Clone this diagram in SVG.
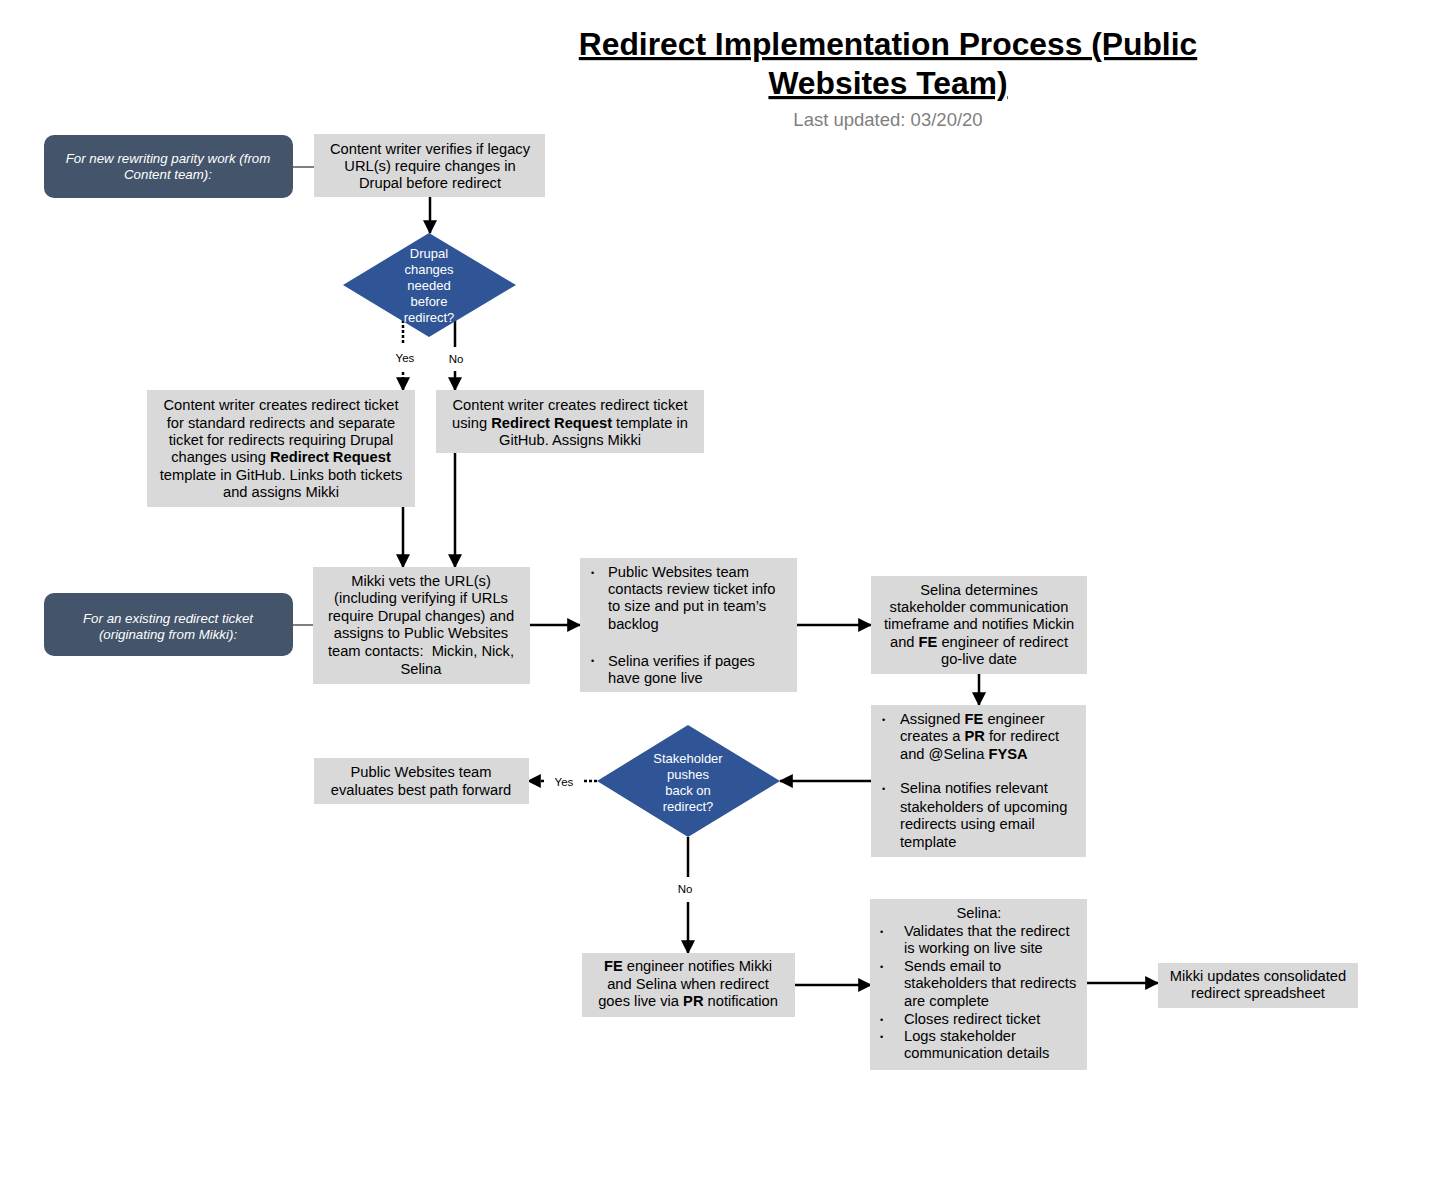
<svg xmlns="http://www.w3.org/2000/svg" width="1440" height="1200" viewBox="0 0 1440 1200">
<defs>
<marker id="ah" markerUnits="userSpaceOnUse" markerWidth="14" markerHeight="14" viewBox="0 0 12 12" refX="11" refY="6" orient="auto">
<path d="M0,0 L12,6 L0,12 Z" fill="#000"/>
</marker>
</defs>
<style>
text{font-family:"Liberation Sans",Arial,sans-serif;}
.box{fill:#D9D9D9;}
.dark{fill:#44546A;}
.dia{fill:#2F5597;}
.t{font-size:14.7px;fill:#000;}
.c{text-anchor:middle;}
.w{font-size:13px;fill:#fff;text-anchor:middle;}
.wi{font-size:13.3px;fill:#fff;text-anchor:middle;font-style:italic;}
.lbl{font-size:11.5px;fill:#000;text-anchor:middle;}
.b{font-weight:bold;}
.bul{font-size:9px;}
.ln{stroke:#000;stroke-width:2.5;fill:none;}
.thin{stroke:#000;stroke-width:1;fill:none;}
.dash{stroke:#000;stroke-width:2.5;fill:none;stroke-dasharray:3,2;}
</style>
<rect width="1440" height="1200" fill="#fff"/>

<g id="title">
<text x="888" y="55" font-weight="bold" text-anchor="middle" text-decoration="underline" style="font-size:31.8px">Redirect Implementation Process (Public</text>
<text x="888" y="94" font-weight="bold" text-anchor="middle" text-decoration="underline" style="font-size:31.8px">Websites Team)</text>
<text x="888" y="126" text-anchor="middle" fill="#7F7F7F" style="font-size:18.5px">Last updated: 03/20/20</text>
</g>

<g id="connectors">
<line class="thin" x1="293" y1="167" x2="314" y2="167"/>
<line class="thin" x1="293" y1="625" x2="313" y2="625"/>
<line class="ln" x1="430" y1="197" x2="430" y2="233" marker-end="url(#ah)"/>
<line class="dash" x1="403" y1="320" x2="403" y2="345"/>
<line class="dash" x1="403" y1="372" x2="403" y2="390" marker-end="url(#ah)"/>
<line class="ln" x1="455" y1="320" x2="455" y2="347"/>
<line class="ln" x1="455" y1="371" x2="455" y2="390" marker-end="url(#ah)"/>
<line class="ln" x1="403" y1="507" x2="403" y2="567" marker-end="url(#ah)"/>
<line class="ln" x1="455" y1="453" x2="455" y2="567" marker-end="url(#ah)"/>
<line class="ln" x1="530" y1="625" x2="580" y2="625" marker-end="url(#ah)"/>
<line class="ln" x1="797" y1="625" x2="871" y2="625" marker-end="url(#ah)"/>
<line class="ln" x1="979" y1="674" x2="979" y2="705" marker-end="url(#ah)"/>
<line class="ln" x1="871" y1="781" x2="780" y2="781" marker-end="url(#ah)"/>
<line class="dash" x1="597" y1="781" x2="584" y2="781"/>
<line class="dash" x1="544" y1="781" x2="528" y2="781" marker-end="url(#ah)"/>
<line class="ln" x1="688" y1="837" x2="688" y2="877"/>
<line class="ln" x1="688" y1="902" x2="688" y2="953" marker-end="url(#ah)"/>
<line class="ln" x1="795" y1="985" x2="871" y2="985" marker-end="url(#ah)"/>
<line class="ln" x1="1087" y1="983" x2="1158" y2="983" marker-end="url(#ah)"/>
<text class="lbl" x="405" y="362">Yes</text>
<text class="lbl" x="456" y="363">No</text>
<text class="lbl" x="564" y="786">Yes</text>
<text class="lbl" x="685" y="893">No</text>
</g>

<g id="start-new">
<rect class="dark" x="44" y="135" width="249" height="63" rx="10"/>
<text class="wi" x="168" y="163">For new rewriting parity work (from</text>
<text class="wi" x="168" y="179">Content team):</text>
</g>

<g id="verify-legacy">
<rect class="box" x="314" y="134" width="231" height="63"/>
<text class="t c" x="430" y="154">Content writer verifies if legacy</text>
<text class="t c" x="430" y="171">URL(s) require changes in</text>
<text class="t c" x="430" y="188">Drupal before redirect</text>
</g>

<g id="drupal-decision">
<polygon class="dia" points="429,233 516,285 429,337 343,285"/>
<text class="w" x="429" y="258">Drupal</text>
<text class="w" x="429" y="274">changes</text>
<text class="w" x="429" y="290">needed</text>
<text class="w" x="429" y="306">before</text>
<text class="w" x="429" y="322">redirect?</text>
</g>

<g id="ticket-yes">
<rect class="box" x="147" y="390" width="268" height="117"/>
<text class="t c" x="281" y="410">Content writer creates redirect ticket</text>
<text class="t c" x="281" y="428">for standard redirects and separate</text>
<text class="t c" x="281" y="445">ticket for redirects requiring Drupal</text>
<text class="t c" x="281" y="462">changes using <tspan class="b">Redirect Request</tspan></text>
<text class="t c" x="281" y="480">template in GitHub. Links both tickets</text>
<text class="t c" x="281" y="497">and assigns Mikki</text>
</g>

<g id="ticket-no">
<rect class="box" x="436" y="390" width="268" height="63"/>
<text class="t c" x="570" y="410">Content writer creates redirect ticket</text>
<text class="t c" x="570" y="428">using <tspan class="b">Redirect Request</tspan> template in</text>
<text class="t c" x="570" y="445">GitHub. Assigns Mikki</text>
</g>

<g id="start-existing">
<rect class="dark" x="44" y="593" width="249" height="63" rx="10"/>
<text class="wi" x="168" y="623">For an existing redirect ticket</text>
<text class="wi" x="168" y="639">(originating from Mikki):</text>
</g>

<g id="mikki-vets">
<rect class="box" x="313" y="567" width="217" height="117"/>
<text class="t c" x="421" y="586">Mikki vets the URL(s)</text>
<text class="t c" x="421" y="603">(including verifying if URLs</text>
<text class="t c" x="421" y="621">require Drupal changes) and</text>
<text class="t c" x="421" y="638">assigns to Public Websites</text>
<text class="t c" x="421" y="656">team contacts:&#160; Mickin, Nick,</text>
<text class="t c" x="421" y="674">Selina</text>
</g>

<g id="team-review">
<rect class="box" x="580" y="558" width="217" height="134"/>
<text class="t bul" x="591" y="576">•</text>
<text class="t" x="608" y="577">Public Websites team</text>
<text class="t" x="608" y="594">contacts review ticket info</text>
<text class="t" x="608" y="611">to size and put in team’s</text>
<text class="t" x="608" y="629">backlog</text>
<text class="t bul" x="591" y="664">•</text>
<text class="t" x="608" y="666">Selina verifies if pages</text>
<text class="t" x="608" y="683">have gone live</text>
</g>

<g id="selina-timeframe">
<rect class="box" x="871" y="576" width="216" height="98"/>
<text class="t c" x="979" y="595">Selina determines</text>
<text class="t c" x="979" y="612">stakeholder communication</text>
<text class="t c" x="979" y="629">timeframe and notifies Mickin</text>
<text class="t c" x="979" y="647">and <tspan class="b">FE</tspan> engineer of redirect</text>
<text class="t c" x="979" y="664">go-live date</text>
</g>

<g id="fe-pr">
<rect class="box" x="871" y="705" width="215" height="152"/>
<text class="t bul" x="882" y="723">•</text>
<text class="t" x="900" y="724">Assigned <tspan class="b">FE</tspan> engineer</text>
<text class="t" x="900" y="741">creates a <tspan class="b">PR</tspan> for redirect</text>
<text class="t" x="900" y="759">and @Selina <tspan class="b">FYSA</tspan></text>
<text class="t bul" x="882" y="792">•</text>
<text class="t" x="900" y="793">Selina notifies relevant</text>
<text class="t" x="900" y="812">stakeholders of upcoming</text>
<text class="t" x="900" y="829">redirects using email</text>
<text class="t" x="900" y="847">template</text>
</g>

<g id="stakeholder-decision">
<polygon class="dia" points="688,725 780,781 688,837 597,781"/>
<text class="w" x="688" y="763">Stakeholder</text>
<text class="w" x="688" y="779">pushes</text>
<text class="w" x="688" y="795">back on</text>
<text class="w" x="688" y="811">redirect?</text>
</g>

<g id="evaluate">
<rect class="box" x="314" y="758" width="215" height="46"/>
<text class="t c" x="421" y="777">Public Websites team</text>
<text class="t c" x="421" y="795">evaluates best path forward</text>
</g>

<g id="fe-notifies">
<rect class="box" x="582" y="953" width="213" height="64"/>
<text class="t c" x="688" y="971"><tspan class="b">FE</tspan> engineer notifies Mikki</text>
<text class="t c" x="688" y="989">and Selina when redirect</text>
<text class="t c" x="688" y="1006">goes live via <tspan class="b">PR</tspan> notification</text>
</g>

<g id="selina-validates">
<rect class="box" x="870" y="899" width="217" height="171"/>
<text class="t c" x="979" y="918">Selina:</text>
<text class="t bul" x="880" y="935">•</text>
<text class="t" x="904" y="936">Validates that the redirect</text>
<text class="t" x="904" y="953">is working on live site</text>
<text class="t bul" x="880" y="970">•</text>
<text class="t" x="904" y="971">Sends email to</text>
<text class="t" x="904" y="988">stakeholders that redirects</text>
<text class="t" x="904" y="1006">are complete</text>
<text class="t bul" x="880" y="1023">•</text>
<text class="t" x="904" y="1024">Closes redirect ticket</text>
<text class="t bul" x="880" y="1040">•</text>
<text class="t" x="904" y="1041">Logs stakeholder</text>
<text class="t" x="904" y="1058">communication details</text>
</g>

<g id="mikki-updates">
<rect class="box" x="1158" y="963" width="200" height="45"/>
<text class="t c" x="1258" y="981">Mikki updates consolidated</text>
<text class="t c" x="1258" y="998">redirect spreadsheet</text>
</g>
</svg>
